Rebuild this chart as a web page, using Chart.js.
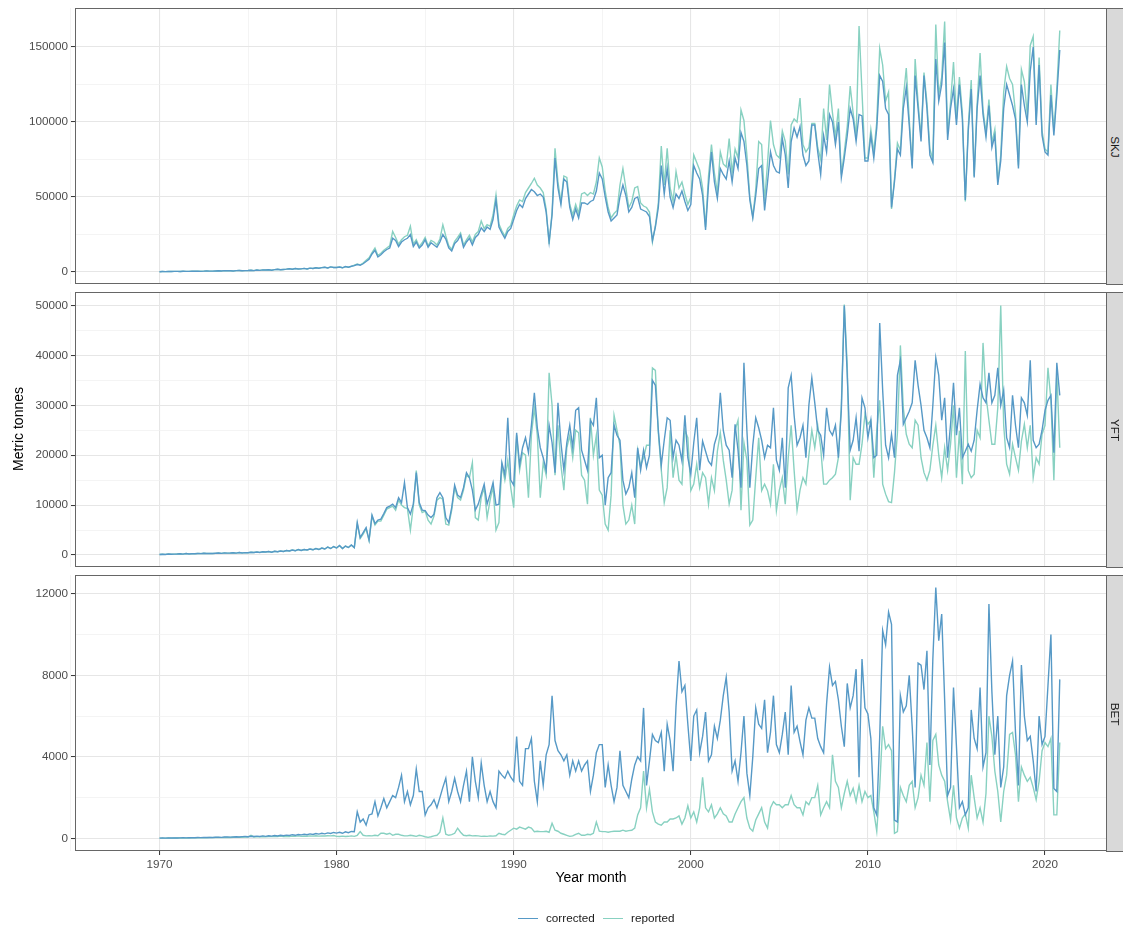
<!DOCTYPE html>
<html>
<head>
<meta charset="utf-8">
<script src="https://cdn.jsdelivr.net/npm/chart.js@4.4.1/dist/chart.umd.min.js"></script>
<style>
  html, body { margin: 0; padding: 0; background: #fff; }
  body { width: 1123px; height: 928px; position: relative; overflow: hidden;
         font-family: 'Liberation Sans', Arial, Helvetica, sans-serif; }
  canvas { position: absolute; left: 0; }
  .strip { position: absolute; left: 1106px; width: 17px; background: #d9d9d9;
           border: 1px solid #666; border-right: none; box-sizing: border-box; }
  .strip span { position: absolute; left: 50%; top: 50%; font-size: 11.7px; color: #1a1a1a;
                white-space: nowrap; transform: translate(-50%, -50%) rotate(90deg); }
  .ytitle { position: absolute; left: -82px; top: 421px; width: 200px; text-align: center;
            font-size: 14px; line-height: 16px; color: #000; transform: rotate(-90deg); }
  .xtitle { position: absolute; left: 491px; top: 869px; width: 200px; text-align: center;
            font-size: 14px; line-height: 16px; color: #000; }
  .key { position: absolute; height: 0; width: 20px; }
  .keytext { position: absolute; font-size: 11.7px; line-height: 14px; color: #1a1a1a; }
</style>
</head>
<body>
<canvas id="cSKJ"></canvas>
<canvas id="cYFT"></canvas>
<canvas id="cBET"></canvas>

<div class="strip" style="top:8px;height:277px"><span>SKJ</span></div>
<div class="strip" style="top:292px;height:276px"><span>YFT</span></div>
<div class="strip" style="top:575px;height:277px"><span>BET</span></div>

<div class="ytitle">Metric tonnes</div>
<div class="xtitle">Year month</div>

<div class="key" style="left:518px;top:918px;border-top:1.5px solid #5699c6"></div>
<div class="keytext" style="left:546px;top:911px">corrected</div>
<div class="key" style="left:603px;top:918px;border-top:1.5px solid #88d1c1"></div>
<div class="keytext" style="left:631px;top:911px">reported</div>

<script>
// Monthly catch by species, sampled every second month (Jan, Mar, May, Jul, Sep, Nov), 1970-2020.
const firstYear = 1970;
const lastYear = 2020;
const samplesPerYear = 6;

const seriesNames = ['corrected', 'reported'];
const species = ['SKJ', 'YFT', 'BET'];

// Axis ticks
const xMajorYears = [1970, 1980, 1990, 2000, 2010, 2020];
const xMinorYears = [1965, 1975, 1985, 1995, 2005, 2015];
const skjMajor = [0, 50000, 100000, 150000];
const skjMinor = [25000, 75000, 125000];
const yftMajor = [0, 10000, 20000, 30000, 40000, 50000];
const yftMinor = [5000, 15000, 25000, 35000, 45000];
const betMajor = [0, 4000, 8000, 12000];
const betMinor = [2000, 6000, 10000];

// SKJ (skipjack), corrected
const skjCorrected = [
  200, 300, 250, 350, 300, 400,
  400, 350, 500, 450, 400, 500,
  500, 600, 450, 550, 700, 600,
  600, 700, 800, 650, 900, 800,
  800, 700, 900, 1000, 850, 900,
  1000, 1200, 900, 1300, 1100, 1400,
  1300, 1500, 1200, 1600, 1800, 1500,
  1700, 1900, 2200, 1800, 2300, 2000,
  2100, 2400, 2000, 2600, 2300, 2800,
  2500, 2900, 3200, 2700, 3400, 3000,
  3000, 3300, 2800, 3600, 3200, 3800,
  4200, 5000, 4500, 5500, 7000, 8500,
  12000, 14500, 10000, 11500, 13500, 15000,
  16000, 22500, 21000, 17000, 20000, 21500,
  22500, 25000, 17000, 20000, 16000, 18000,
  21500, 16500, 19500, 18000, 16500, 20000,
  25000, 22000, 16000, 14000, 19000, 21000,
  24500, 16500, 20000, 22500, 18000, 23000,
  25000, 29500, 27000, 30000, 28500, 35000,
  48000, 30000, 26000, 22500, 27000, 29000,
  35000, 41000, 45000, 43000, 49000, 52000,
  55000, 53500, 51000, 52000, 50000, 40000,
  20000, 38000, 76000, 56000, 45000, 62000,
  60000, 43000, 35000, 42000, 36000, 46000,
  46000, 45000, 47000, 48000, 54000, 66000,
  62000, 50000, 40000, 34000, 36000, 38000,
  50000, 58000, 51000, 40000, 43000, 49000,
  50000, 42000, 41000, 40000, 37000, 21000,
  30000, 43000, 71000, 52000, 69000, 50000,
  43000, 52000, 49000, 54000, 47000, 41000,
  45000, 71000, 66000, 62000, 51000, 28000,
  58000, 80000, 60000, 49000, 69000, 65000,
  62000, 74000, 60000, 76000, 69000, 93000,
  87000, 71000, 48000, 36000, 51000, 69000,
  71000, 41000, 60000, 80000, 71000, 67000,
  66000, 89000, 78000, 56000, 87000, 96000,
  90000, 97000, 78000, 71000, 74000, 98000,
  98000, 80000, 65000, 91000, 80000, 105000,
  100000, 85000, 100000, 63000, 76000, 91000,
  109000, 102000, 87000, 105000, 104000, 74000,
  74000, 91000, 76000, 96000, 131000, 127000,
  109000, 105000, 43000, 60000, 82000, 78000,
  109000, 123000, 98000, 69000, 131000, 109000,
  87000, 131000, 109000, 78000, 73000, 142000,
  114000, 125000, 153000, 88000, 109000, 122000,
  98000, 125000, 102000, 48000, 94000, 122000,
  63000, 109000, 131000, 105000, 90000, 111000,
  83000, 91000, 58000, 74000, 109000, 125000,
  118000, 111000, 102000, 69000, 125000, 111000,
  100000, 134000, 150000, 98000, 138000, 91000,
  80000, 78000, 118000, 91000, 118000, 148000
];

// SKJ, reported
const skjReported = [
  200, 310, 260, 340, 300, 410,
  390, 360, 510, 440, 410, 490,
  510, 590, 460, 560, 690, 610,
  610, 690, 810, 660, 890, 810,
  790, 710, 910, 990, 860, 910,
  1010, 1190, 910, 1290, 1110, 1390,
  1310, 1490, 1210, 1610, 1790, 1510,
  1710, 1890, 2210, 1810, 2290, 2010,
  2110, 2390, 2010, 2590, 2310, 2790,
  2510, 2890, 3210, 2710, 3390, 3010,
  3010, 3290, 2810, 3590, 3210, 3790,
  4500, 5400, 4800, 6000, 7800, 9500,
  13000, 16000, 11000, 12500, 14500, 16000,
  17500, 27000, 23000, 18500, 21500, 23500,
  24500, 30500, 18500, 21500, 17000, 19500,
  23000, 17500, 21000, 20000, 18000, 22000,
  31500, 24000, 17500, 15000, 20500, 23000,
  26000, 18000, 21500, 24500, 20000, 25000,
  27000, 34000, 29000, 31500, 30500, 38000,
  51500, 32000, 27500, 24000, 29000, 31000,
  38000, 44000, 48000, 47000, 53000, 56000,
  59000, 62500, 58000, 56000, 53000, 42000,
  18500, 40000, 82500, 60000, 47000, 64000,
  63000, 45000, 38000, 45000, 39000, 52000,
  53000, 51000, 53000, 52000, 60000, 76000,
  70000, 54000, 43000, 36000, 39000, 41000,
  58000, 69000, 56000, 43000, 47000, 56000,
  57000, 46000, 44000, 43000, 40000, 20000,
  31000, 46000, 84000, 58000, 82500, 56000,
  47000, 67000, 56000, 60000, 52000, 45000,
  50000, 78000, 73000, 68000, 56000, 30000,
  64000, 85000, 66000, 53000, 80000, 72000,
  70000, 89000, 66000, 82000, 76000, 108000,
  101000, 78000, 50000, 37000, 55000, 87000,
  85000, 47000, 73000, 101000, 85000, 78000,
  76000, 94000, 87000, 65000, 98000, 102000,
  100000, 116000, 85000, 80000, 83000, 99000,
  99000, 83000, 75000, 109000, 88000, 125000,
  106000, 90000, 109000, 65000, 80000, 97000,
  124000, 106000, 90000, 164000, 120000, 76000,
  76000, 95000, 80000, 100000, 149000, 138000,
  114000, 120000, 42000, 62000, 86000, 81000,
  116000, 136000, 102000, 71000, 142000, 113000,
  90000, 133000, 113000, 82000, 75000, 165000,
  118000, 130000, 167000, 92000, 113000, 140000,
  102000, 130000, 106000, 47000, 97000, 128000,
  64000, 112000, 146000, 108000, 93000, 115000,
  86000, 95000, 60000, 78000, 120000, 137000,
  129000, 125000, 106000, 71000, 135000, 127000,
  104000, 151000, 157000, 101000, 143000, 94000,
  82000, 80000, 125000, 94000, 122000, 161000
];

// YFT (yellowfin), corrected
const yftCorrected = [
  100, 150, 120, 200, 150, 180,
  200, 250, 180, 300, 220, 260,
  250, 300, 280, 350, 300, 320,
  300, 350, 400, 330, 420, 380,
  400, 450, 380, 500, 420, 480,
  450, 550, 500, 600, 520, 650,
  600, 700, 550, 750, 650, 800,
  700, 900, 800, 1000, 850, 1100,
  900, 1100, 1000, 1200, 1050, 1300,
  1100, 1400, 1200, 1600, 1300, 1700,
  1400, 1900, 1300, 1800, 1500, 2000,
  1500, 6500, 3500, 4500, 5500, 3000,
  8000, 6300, 7000, 7200, 8300, 9500,
  9800, 10200, 9500, 11500, 10500, 14500,
  9500, 8200, 10200, 16500, 10500, 9000,
  8900, 8000, 7500, 8200, 11500, 12500,
  11500, 7500, 6500, 9500, 14000, 12000,
  11500, 13500, 16500, 15500, 13000, 9000,
  10200, 12200, 14200, 10200, 12200, 14500,
  10000, 10200, 18500, 16000, 27500, 15000,
  14000, 24500, 18000, 21500, 23500, 20500,
  26000, 32500, 25500, 21500, 19500, 17000,
  26000, 22500, 16500, 30500, 22500, 17000,
  22500, 26000, 21500, 29000, 29500, 21000,
  19000, 17000, 27000, 26000, 31500, 19500,
  20000, 10000, 15500, 16500, 26000, 24000,
  23000, 15000, 12200, 13500, 16500, 11500,
  21500, 17000, 21000, 17500, 20000, 35000,
  34000, 25000, 18000, 23000, 27500, 27000,
  19500, 23000, 22000, 18800, 28000, 19500,
  16200, 22500, 27500, 17000, 22800, 20800,
  18800, 18000, 22200, 24200, 32500, 25000,
  22000, 21000, 15500, 26200, 21000, 13500,
  38500, 25000, 13500, 22000, 27500, 25500,
  23000, 19500, 22000, 21500, 29500, 19000,
  17000, 23500, 13500, 33500, 36000, 28000,
  22000, 23500, 26000, 19500, 30000, 35500,
  30500, 25000, 24000, 20000, 29500, 25000,
  24000, 26000, 19500, 29000, 50000, 36000,
  21000, 23000, 27500, 20800, 31500, 29500,
  23500, 27000, 19500, 20000, 46500, 33000,
  22000, 19500, 24200, 19500, 36000, 39000,
  26200, 27500, 28800, 30500, 39000, 34000,
  30000, 25000, 23500, 21500, 30000, 39500,
  36000, 27000, 31500, 19500, 26200, 34500,
  24000, 29500, 19500, 20800, 22200, 20800,
  23000, 29000, 34200, 31500, 30500, 36500,
  30500, 32000, 37500, 30000, 33000, 23500,
  21500, 32000, 26000, 21500, 31500, 30500,
  28000, 39000, 23000, 21500, 22200, 25000,
  29000, 31000, 32000, 20500, 38500, 32000
];

// YFT, reported
const yftReported = [
  100, 140, 130, 190, 160, 170,
  210, 240, 190, 290, 230, 250,
  260, 290, 290, 340, 310, 330,
  310, 340, 390, 340, 410, 390,
  390, 460, 390, 490, 430, 470,
  460, 540, 510, 590, 530, 640,
  610, 690, 560, 740, 660, 790,
  710, 890, 810, 990, 860, 1090,
  910, 1090, 1010, 1190, 1060, 1290,
  1110, 1390, 1210, 1590, 1310, 1690,
  1410, 1880, 1310, 1790, 1510, 1980,
  1500, 6300, 3300, 4200, 5300, 2900,
  7800, 6000, 6800, 6800, 8000, 9200,
  9500, 9800, 9000, 11000, 10000, 9500,
  9300, 5000, 9800, 16900, 10000, 8500,
  8800, 7000, 6200, 7800, 11000, 11500,
  11200, 6200, 6000, 9000, 13500, 11500,
  11000, 13000, 16000, 15500, 18500, 7500,
  7000, 11500, 13500, 7500, 11000, 13800,
  5000, 6500, 18000, 15000, 19000, 13500,
  9500, 24000, 17000, 20500, 20000, 11500,
  24000, 29500, 24000, 11500, 18500, 16000,
  36500, 30000, 16000, 26000, 18000, 13000,
  21500, 24000, 19500, 25000, 24500, 16000,
  15000, 10200, 27500, 20000, 24000, 13000,
  12000, 6200, 5000, 12000, 28000, 25000,
  22000, 10000, 6200, 7000, 10000, 6200,
  21000, 18000, 19500, 22000, 22000, 37500,
  37000, 24500, 17000, 10500, 13500, 25000,
  15500, 20000, 15000, 14200, 25000, 23500,
  12900, 14200, 18200, 13500, 16500, 15500,
  10200, 15500, 12900, 20800, 24500, 19000,
  15000, 10200, 13000, 25000, 27000, 9000,
  22500, 19000, 6000, 7000, 15500, 23500,
  12900, 14200, 12900, 10200, 18200, 8900,
  13000, 15500, 10200, 19500, 26000, 17000,
  9000, 13000, 15500, 14200, 20000, 25000,
  21500, 26000, 21500, 14200, 14200, 15000,
  15500, 16200, 19500, 30000, 50200, 38000,
  11000, 19500, 18200, 18200, 22200, 28200,
  26200, 27000, 15500, 25000, 31000, 14200,
  12200, 10700, 10500, 16500, 24500, 42000,
  29500, 24200, 22200, 21500, 27000, 26000,
  19500, 16500, 15000, 17000, 22000, 26000,
  20000, 15500, 21500, 17000, 22200, 30000,
  15500, 24900, 14200, 40900, 16900, 15500,
  16200, 25000, 23500, 42500, 32000, 27000,
  22200, 22200, 29500, 50000, 26000, 18200,
  16200, 22200, 19500, 17000, 22800, 26200,
  21500, 26000, 15500, 19500, 18200, 24200,
  26000, 37500, 31000, 15000, 36500, 21500
];

// BET (bigeye), corrected
const betCorrected = [
  10, 15, 12, 20, 15, 18,
  20, 25, 30, 22, 28, 35,
  30, 40, 35, 45, 50, 40,
  45, 55, 60, 50, 65, 70,
  60, 70, 80, 65, 85, 90,
  80, 100, 90, 110, 95, 120,
  100, 130, 110, 140, 120, 150,
  130, 160, 140, 180, 150, 190,
  170, 200, 180, 220, 190, 240,
  210, 250, 220, 270, 240, 290,
  260, 300, 250, 320, 280, 340,
  330, 1300, 800, 950, 650, 1150,
  1200, 1800, 1100, 1500, 1950, 1500,
  1800, 2100, 2000, 2500, 3100, 1800,
  2300, 1650, 2100, 3400, 2300, 2300,
  1150, 1500, 1650, 1900, 1500, 2000,
  2500, 2950, 1800, 2300, 2950, 2300,
  1800, 2600, 3300, 1800, 4000, 2800,
  2000, 3700, 2600, 1800, 2300, 1800,
  1500, 3300, 3100, 2950, 3300, 3000,
  2800, 5000, 2800, 2600, 4400, 4400,
  4900, 2800, 1800, 3800, 2600, 4100,
  4600, 7000, 4800, 4300, 4100, 3800,
  4100, 3100, 3800, 3300, 3800, 3300,
  3600, 3800, 2300, 3100, 4200, 4600,
  4600, 2500, 3600, 2600, 1800, 2500,
  4300, 2600, 2300, 2000, 2900, 3600,
  4000, 3800, 6400, 2600, 3800, 5100,
  4800, 4700, 5200, 3300, 5600, 4800,
  3300, 6500, 8700, 7200, 7500, 5600,
  3800, 6000, 6300, 4200, 5000, 6200,
  3800, 4100, 5500, 4900, 5800, 7000,
  7900, 6200, 3300, 3800, 2800, 4200,
  6000, 3200, 2100, 4000, 6400, 5600,
  5400, 6800, 4200, 5200, 7000, 4600,
  4200, 5100, 6200, 4100, 7500, 5200,
  5500, 4750, 4100, 5800, 6400, 5900,
  5900, 4900, 4500, 4200, 6600, 8400,
  7500, 7700, 6800, 5500, 4500, 7600,
  6400, 7000, 8300, 3000, 8800, 6400,
  6100, 4900, 1500, 1150, 5000, 10200,
  9500, 11100, 10500, 900, 800, 7000,
  6200, 6500, 8000, 5500, 2500, 8600,
  8500, 7300, 9200, 3600, 8800, 12300,
  9700, 11000, 6800, 2100, 2500, 7400,
  4500, 1500, 1800, 1150, 1500, 6300,
  4900, 4400, 7400, 3500, 4200, 11500,
  7200, 4100, 6000, 2500, 3500, 7000,
  8000, 8700, 5200, 2600, 8500, 6000,
  4800, 5000, 3800, 2300, 6000, 4600,
  5000, 7500, 10000, 2450, 2300, 7800
];

// BET, reported
const betReported = [
  10, 12, 10, 15, 12, 15,
  15, 20, 18, 22, 20, 25,
  25, 30, 28, 35, 30, 40,
  35, 40, 45, 38, 50, 45,
  45, 55, 50, 60, 55, 65,
  60, 150, 70, 80, 75, 90,
  80, 90, 85, 100, 95, 110,
  90, 100, 95, 110, 100, 120,
  100, 110, 105, 120, 110, 130,
  110, 120, 115, 130, 120, 140,
  100, 90, 110, 95, 100, 120,
  100, 150, 330, 150, 120, 130,
  120, 150, 130, 250, 250, 200,
  250, 150, 200, 200, 150, 120,
  120, 150, 130, 100, 150, 120,
  80, 50, 80, 120, 150, 300,
  1000, 200, 150, 180, 250, 500,
  300, 150, 130, 150, 120, 130,
  120, 100, 110, 100, 120, 110,
  130, 250, 200, 180, 300, 400,
  500, 450, 550, 500, 450, 550,
  500, 330, 350, 330, 330, 350,
  300, 740, 400, 350, 250, 200,
  150, 100, 120, 200, 250, 150,
  150, 200, 180, 250, 800, 350,
  330, 330, 300, 330, 350, 350,
  350, 400, 350, 380, 400, 500,
  1150, 1500, 3300, 1500, 2400, 1300,
  800, 700, 650, 800, 800, 950,
  950, 1000, 1100, 700, 1000, 1600,
  1000, 1300, 800, 1500, 3000, 1500,
  1300, 1650, 1000, 1200, 1500, 1200,
  1100, 800, 800, 1200, 1500, 1800,
  2000, 1000, 500, 350, 900, 1200,
  1500, 800, 500, 1500, 1800, 1650,
  1650, 1500, 1650, 1650, 2100, 1650,
  1500, 1500, 1150, 1800, 1650, 2000,
  2000, 2600, 1150, 1500, 1800, 1500,
  4100, 2800, 2500, 1500, 2200, 2800,
  2100, 2450, 1800, 2600, 1800, 2300,
  2000, 2100, 1300, 350, 2500, 5500,
  4400, 4600, 4300, 250, 330, 2500,
  2100, 1800, 2600, 2800, 1500, 2000,
  3100, 2600, 4700, 1800, 4800, 5100,
  3600, 3100, 2800, 1800, 900, 2600,
  1000, 500, 1000, 1200, 500, 3100,
  2000, 1000, 1500, 800, 2200, 6000,
  5000, 3300, 2300, 800, 2300, 3100,
  5100, 5200, 4100, 1800, 3500, 3100,
  2800, 3000, 2500, 1900, 2800, 4300,
  4700, 4500, 4900, 1150, 1150, 4700
];

// Sample dates as decimal years
const sampleDates = [];
for (let y = firstYear; y <= lastYear; y++) {
  for (let k = 0; k < samplesPerYear; k++) sampleDates.push(y + k * 2 / 12);
}

Chart.defaults.font.family = "'Liberation Sans', Arial, Helvetica, sans-serif";
Chart.defaults.font.size = 11.7;
Chart.defaults.color = '#4d4d4d';

const CANVAS_W = 1123;
const X_MIN = 1965.23, X_MAX = 2023.5;
const COLORS = { corrected: '#5699c6', reported: '#88d1c1' };
const GRID_MAJOR = '#e6e6e6', GRID_MINOR = '#efefef';
const PAD = 14;

// Panel frame drawn round the plotting area
const framePlugin = {
  id: 'frame',
  afterDraw(chart) {
    const a = chart.chartArea, ctx = chart.ctx;
    ctx.save();
    ctx.strokeStyle = '#666';
    ctx.lineWidth = 1;
    ctx.strokeRect(Math.round(a.left) + 0.5, Math.round(a.top) + 0.5,
                   Math.round(a.right - a.left) - 1, Math.round(a.bottom - a.top) - 1);
    ctx.restore();
  }
};

function pairs(values) {
  return values.map((v, i) => ({ x: sampleDates[i], y: v }));
}

function makePanel(cfg) {
  const axisH = cfg.showX ? 26 : 0;
  const padBottom = cfg.showX ? 0 : PAD;
  const h = (cfg.bottom - cfg.top) + PAD + padBottom + axisH;
  const cv = document.getElementById(cfg.id);
  cv.width = CANVAS_W; cv.height = h;
  cv.style.width = CANVAS_W + 'px'; cv.style.height = h + 'px';
  cv.style.top = (cfg.top - PAD) + 'px';

  const yTicks = cfg.yMajor.concat(cfg.yMinor).sort((a, b) => a - b);
  const xTicks = xMajorYears.concat(xMinorYears).sort((a, b) => a - b);
  const isYMajor = v => cfg.yMajor.includes(v);
  const isXMajor = v => xMajorYears.includes(v);

  new Chart(cv, {
    type: 'line',
    data: {
      datasets: [
        { label: seriesNames[0], data: pairs(cfg.corrected), borderColor: COLORS.corrected,
          borderWidth: 1.4, pointRadius: 0, tension: 0, fill: false },
        { label: seriesNames[1], data: pairs(cfg.reported), borderColor: COLORS.reported,
          borderWidth: 1.4, pointRadius: 0, tension: 0, fill: false }
      ]
    },
    options: {
      responsive: false,
      animation: false,
      devicePixelRatio: 1,
      layout: { padding: { top: PAD, bottom: padBottom, left: 0, right: 16 }, autoPadding: false },
      plugins: { legend: { display: false }, tooltip: { enabled: false } },
      scales: {
        x: {
          type: 'linear', min: X_MIN, max: X_MAX,
          afterBuildTicks: s => { s.ticks = xTicks.map(v => ({ value: v })); },
          afterFit: s => { s.height = axisH; s.paddingLeft = 0; s.paddingRight = 0; },
          border: { display: false },
          grid: {
            drawTicks: cfg.showX, tickLength: 4, tickWidth: 1,
            color: c => (c.tick && isXMajor(c.tick.value)) ? GRID_MAJOR : GRID_MINOR,
            lineWidth: c => (c.tick && isXMajor(c.tick.value)) ? 1.1 : 0.7,
            tickColor: c => (c.tick && isXMajor(c.tick.value)) ? '#333' : 'rgba(0,0,0,0)'
          },
          ticks: {
            display: cfg.showX, autoSkip: false, maxRotation: 0, padding: 3,
            color: '#4d4d4d',
            callback: v => isXMajor(v) ? String(v) : ''
          }
        },
        y: {
          type: 'linear', min: cfg.yMin, max: cfg.yMax,
          afterBuildTicks: s => { s.ticks = yTicks.map(v => ({ value: v })); },
          afterFit: s => { s.width = 75; s.paddingTop = 0; s.paddingBottom = 0; },
          border: { display: false },
          grid: {
            drawTicks: true, tickLength: 4, tickWidth: 1,
            color: c => (c.tick && isYMajor(c.tick.value)) ? GRID_MAJOR : GRID_MINOR,
            lineWidth: c => (c.tick && isYMajor(c.tick.value)) ? 1.1 : 0.7,
            tickColor: c => (c.tick && isYMajor(c.tick.value)) ? '#333' : 'rgba(0,0,0,0)'
          },
          ticks: {
            autoSkip: false, padding: 3, color: '#4d4d4d',
            callback: v => isYMajor(v) ? String(v) : ''
          }
        }
      }
    },
    plugins: [framePlugin]
  });
}

makePanel({ id: 'cSKJ', top: 8, bottom: 284, yMin: -8000, yMax: 176000,
            yMajor: skjMajor, yMinor: skjMinor,
            corrected: skjCorrected, reported: skjReported, showX: false });
makePanel({ id: 'cYFT', top: 292, bottom: 567, yMin: -2400, yMax: 52700,
            yMajor: yftMajor, yMinor: yftMinor,
            corrected: yftCorrected, reported: yftReported, showX: false });
makePanel({ id: 'cBET', top: 575, bottom: 851, yMin: -620, yMax: 12920,
            yMajor: betMajor, yMinor: betMinor,
            corrected: betCorrected, reported: betReported, showX: true });
</script>
</body>
</html>
